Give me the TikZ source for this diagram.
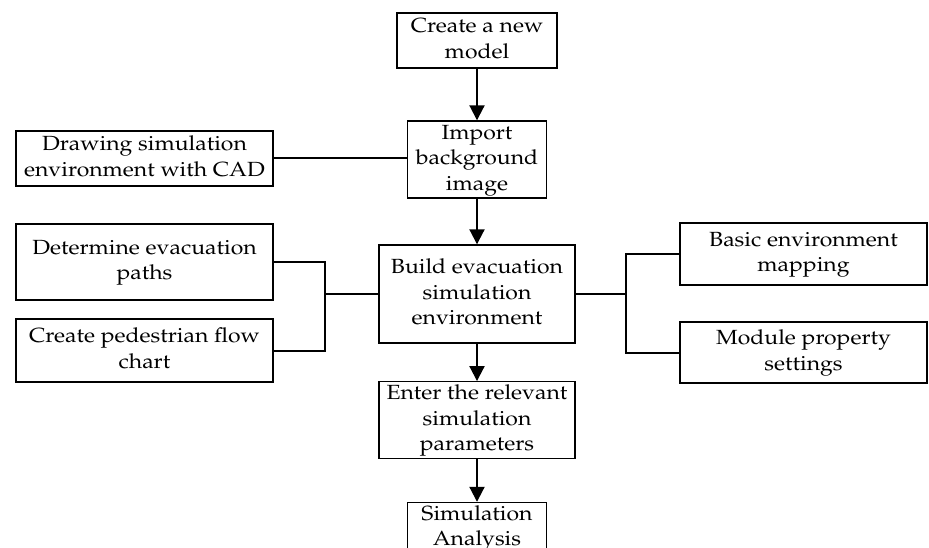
\documentclass[tikz,border=0pt]{standalone}
\usepackage[T1]{fontenc}
\usepackage{graphicx}
\renewcommand{\rmdefault}{ppl}
\usetikzlibrary{arrows.meta}
\newcommand{\wlbl}[1]{\scalebox{1.12}[1]{\begin{tabular}{@{}c@{}}#1\end{tabular}}}
\tikzset{
  box/.style={draw, line width=1.4pt, inner sep=0pt, align=center,
    font=\fontsize{20.5}{25.5}\selectfont},
  conn/.style={line width=2pt},
  arr/.style={conn, -{Triangle[width=15pt,length=15pt]}}
}
\begin{document}
\begin{tikzpicture}[x=1pt,y=-1pt]
\useasboundingbox (0,0) rectangle (929,548);
\clip (0,0) rectangle (929,548);
\node[box, minimum width=160pt, minimum height=55pt] (create) at (477,40.5) {\wlbl{Create a new\\model}};
\node[box, minimum width=139pt, minimum height=77pt] (import) at (477,159.5) {\wlbl{Import\\background\\image}};
\node[box, minimum width=257pt, minimum height=55pt] (cad) at (144.5,158.5) {\wlbl{Drawing simulation\\environment with CAD}};
\node[box, minimum width=257pt, minimum height=76pt] (determine) at (144.5,262) {\wlbl{Determine evacuation\\paths}};
\node[box, minimum width=257pt, minimum height=63pt] (pedestrian) at (144.5,350.5) {\wlbl{Create pedestrian flow\\chart}};
\node[box, minimum width=196pt, minimum height=98pt] (build) at (477,294) {\wlbl{Build evacuation\\simulation\\environment}};
\node[box, minimum width=247pt, minimum height=62pt] (basic) at (803.5,254) {\wlbl{Basic environment\\mapping}};
\node[box, minimum width=247pt, minimum height=61pt] (module) at (803.5,352.5) {\wlbl{Module property\\settings}};
\node[box, minimum width=196pt, minimum height=76pt] (enter) at (477,420) {\wlbl{Enter the relevant\\simulation\\parameters}};
\node[box, minimum width=139pt, minimum height=46pt] (sim) at (477,528) {\wlbl{Simulation\\Analysis}};
\coordinate (lj) at (325,294);
\coordinate (rj) at (626,294);
\draw[arr] (create) -- (import);
\draw[arr] (import) -- (build);
\draw[arr] (build) -- (enter);
\draw[arr] (enter) -- (sim);
\draw[conn] (cad.east) -- (cad.east -| import.west);
\draw[conn] (determine.east) -| (lj) |- (pedestrian.east);
\draw[conn] (lj) -- (build.west);
\draw[conn] (build.east) -- (rj);
\draw[conn] (basic.west) -| (rj) |- (module.west);
\end{tikzpicture}
\end{document}
